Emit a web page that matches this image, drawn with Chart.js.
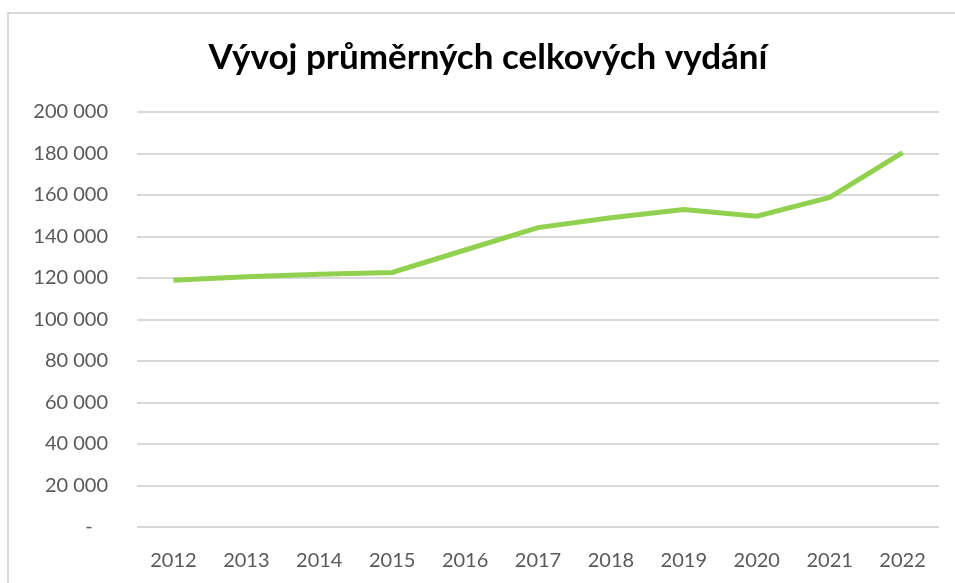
<!DOCTYPE html>
<html>
<head>
<meta charset="utf-8">
<script src="https://cdn.jsdelivr.net/npm/chart.js@4/dist/chart.umd.min.js"></script>
<style>
  html, body { margin: 0; padding: 0; background: #fff; }
  #wrap { position: relative; width: 955px; height: 583px; overflow: hidden; }
  #frame { position: absolute; left: 7px; top: 12px; width: 1000px; height: 700px;
           border-left: 2px solid #d9d9d9; border-top: 2px solid #d9d9d9; }
  canvas { position: absolute; left: 0; top: 0; }
</style>
</head>
<body>
<div id="wrap">
  <div id="frame"></div>
  <canvas id="chart" width="955" height="583"></canvas>
</div>
<script>
// roky a průměrná celková vydání
const years = ['2012', '2013', '2014', '2015', '2016', '2017', '2018', '2019', '2020', '2021', '2022'];
const vydani = [118900, 120600, 121800, 122700, 133500, 144300, 149000, 153000, 149800, 158800, 180400];
const yMin = 0;
const yMax = 200000;
const yStep = 20000;

function formatCz(v) {
  if (v === 0) return '-   ';
  return String(v).replace(/\B(?=(\d{3})+(?!\d))/g, ' ');
}

const tickFont = { family: 'Lato', size: 20 };

// posune střed nadpisu trochu doprava (jako v originále)
const titleShift = {
  id: 'titleShift',
  afterLayout(chart) {
    if (chart.titleBlock) chart.titleBlock.left = 37;
  }
};

new Chart(document.getElementById('chart'), {
  type: 'line',
  data: {
    labels: years,
    datasets: [{
      label: 'Vývoj průměrných celkových vydání',
      data: vydani,
      borderColor: '#92D050',
      backgroundColor: '#92D050',
      borderWidth: 5,
      pointRadius: 0,
      tension: 0,
      borderCapStyle: 'butt',
      borderJoinStyle: 'miter'
    }]
  },
  options: {
    responsive: false,
    animation: false,
    layout: { autoPadding: false, padding: { left: 0, right: 16, top: 0, bottom: 0 } },
    plugins: {
      legend: { display: false },
      tooltip: { enabled: false },
      title: {
        display: true,
        text: 'Vývoj průměrných celkových vydání',
        color: '#000000',
        font: { family: 'Lato', size: 35, weight: 'bold' },
        padding: { top: 37, bottom: 33 }
      }
    },
    scales: {
      x: {
        offset: true,
        grid: { display: false },
        border: { display: false },
        ticks: { color: '#595959', font: tickFont, padding: 14, maxRotation: 0 },
        afterFit: function(scale) { scale.height = 56; }
      },
      y: {
        min: yMin,
        max: yMax,
        border: { display: false },
        grid: { color: '#d9d9d9', lineWidth: 2, drawTicks: false },
        ticks: {
          stepSize: yStep,
          color: '#595959',
          font: tickFont,
          padding: 29,
          callback: function(v) { return formatCz(v); }
        },
        afterFit: function(scale) { scale.width = 137; }
      }
    }
  },
  plugins: [titleShift]
});
</script>
</body>
</html>
